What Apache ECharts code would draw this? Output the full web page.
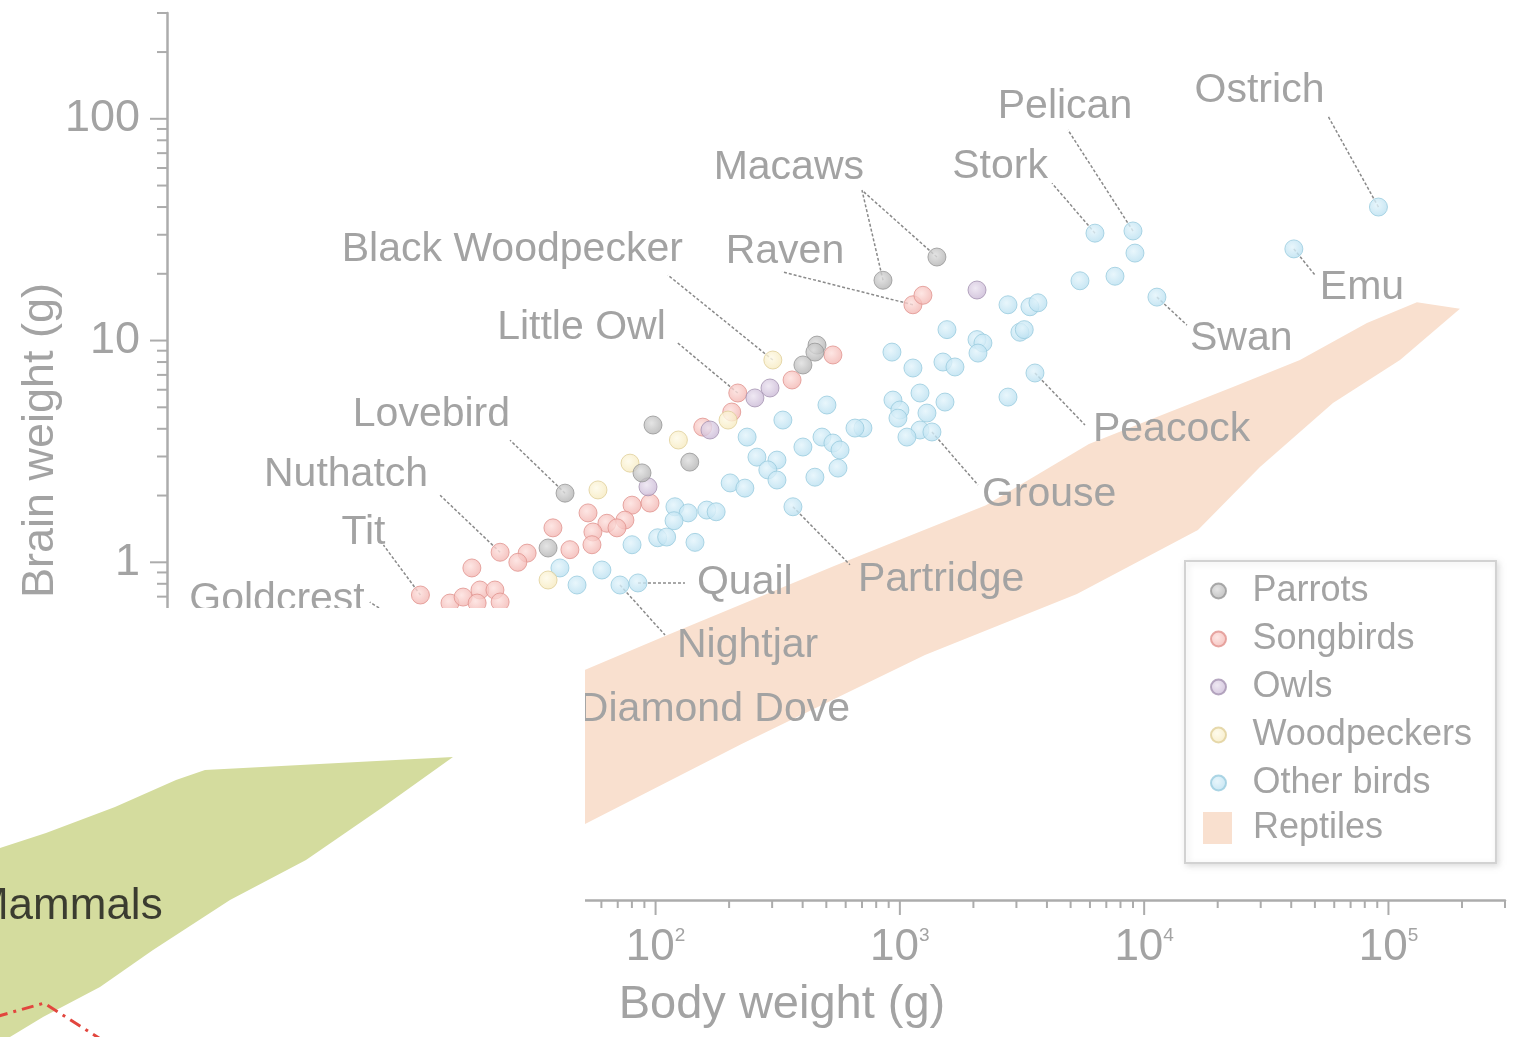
<!DOCTYPE html>
<html>
<head>
<meta charset="utf-8">
<title>Brain weight vs body weight</title>
<script src="https://cdn.jsdelivr.net/npm/echarts@6/dist/echarts.min.js"></script>
<style>
  html, body { margin: 0; padding: 0; background: #fff; }
  #chart { width: 1514px; height: 1037px; }
</style>
</head>
<body>
<div id="chart"></div>
<script>
// ---- data: [body weight (g), brain weight (g)] ----
const parrots = [[1418, 23.8], [853, 18.7], [458, 9.54], [449, 8.87], [401, 7.76], [97.6, 4.16],
  [138, 2.83], [88.0, 2.53], [42.6, 2.05], [36.3, 1.16]];

const songbirds = [[1131, 14.5], [1243, 16.0], [532, 8.61], [362, 6.64], [217, 5.80], [205, 4.76],
  [156, 4.07], [94.9, 1.85], [80.1, 1.81], [52.9, 1.67], [63.2, 1.50], [74.9, 1.55], [69.5, 1.43],
  [38.0, 1.43], [55.4, 1.37], [54.9, 1.20], [44.6, 1.14], [29.8, 1.10], [23.1, 1.11], [27.3, 1.00],
  [17.7, 0.943], [10.9, 0.712], [14.4, 0.655], [16.3, 0.697], [19.1, 0.750], [22.0, 0.750],
  [23.1, 0.662], [18.6, 0.655], [11.9, 0.446]];

const owls = [[2069, 16.9], [294, 6.11], [255, 5.51], [167, 3.95], [93.1, 2.19]];

const woodpeckers = [[302, 8.17], [198, 4.38], [124, 3.56], [78.6, 2.80], [58.1, 2.12], [36.3, 0.832]];

const otherBirds = [[91000, 40.0], [41000, 25.9], [9000, 31.2], [9170, 24.8], [6290, 30.5], [5461, 18.6],
  [7597, 19.5], [11280, 15.7], [2771, 14.5], [3408, 14.2], [3675, 14.8], [1559, 11.2], [3100, 10.9],
  [3230, 11.2], [2069, 10.1], [2188, 9.75], [2088, 8.78], [928, 8.87], [1131, 7.52], [1501, 8.00],
  [1681, 7.60], [3573, 7.14], [2771, 5.56], [937, 5.39], [1000, 4.86], [982, 4.47], [1209, 5.80],
  [1291, 4.71], [1530, 5.28], [1209, 3.95], [1353, 3.87], [1069, 3.67], [706, 4.03], [655, 4.03],
  [503, 5.12], [332, 4.38], [237, 3.67], [401, 3.31], [480, 3.67], [532, 3.45], [569, 3.21],
  [260, 2.98], [314, 2.89], [288, 2.61], [314, 2.35], [558, 2.66], [449, 2.42], [202, 2.28],
  [232, 2.16], [365, 1.78], [120, 1.78], [136, 1.67], [162, 1.72], [177, 1.69], [119, 1.54],
  [102, 1.29], [111, 1.30], [145, 1.23], [80.1, 1.20], [40.6, 0.943], [47.7, 0.790], [60.3, 0.923],
  [71.5, 0.790], [84.7, 0.807], [33.6, 0.446]];

// reptile range outline (body, brain)
const reptileBand = [[14.4, 0.181], [52.4, 0.330], [107, 0.460], [538, 0.962], [2251, 1.81],
  [5944, 3.42], [12400, 4.71], [23090, 6.17], [43420, 8.17], [81660, 12.0], [130800, 14.9],
  [196200, 13.9], [111500, 8.17], [59280, 5.23], [29790, 2.69], [16600, 1.40], [5307, 0.719],
  [1267, 0.382], [226, 0.152], [52.4, 0.0667], [14.4, 0.0323]];

// mammal inset (own axes, lower left)
const mammalBand = [[1000, 57.8], [2473, 79.8], [9614, 139.5], [31940, 249], [56510, 309],
  [7.44e6, 408], [1.877e6, 139.5], [412500, 44.7], [92430, 18.9], [20310, 6.47], [7155, 2.93],
  [2331, 1.54], [1217, 1.0], [1000, 1.0]];
const mammalLine = [[554, 1.32], [2377, 2.07], [8713, 0.842]];
const mammalLabelAt = [576, 16.3];

const legendNames = ['Parrots', 'Songbirds', 'Owls', 'Woodpeckers', 'Other birds'];

// axis ticks
const X_MIN = 1, X_MAX = 3e5, Y_MIN = 0.03, Y_MAX = 300;
const xMajorTicks = [1, 10, 100, 1000, 10000, 100000];
const yMajorTicks = [0.1, 1, 10, 100];
const xMinorTicks = [];
const yMinorTicks = [];
for (let e = 0; e <= 5; e++) {
  for (let k = 2; k <= 9; k++) { const v = k * Math.pow(10, e); if (v <= X_MAX * 1.0001) xMinorTicks.push(v); }
}
for (let e = -2; e <= 2; e++) {
  for (let k = 2; k <= 9; k++) { const v = k * Math.pow(10, e); if (v >= Y_MIN * 0.999 && v <= Y_MAX * 1.0001) yMinorTicks.push(v); }
}

// named birds: leader vector (px) from the point, text offset (px) from leader end
const labels = [
  { name: 'Ostrich', at: [91000, 40.0], lead: [-51, -92], off: [-3, -24], align: 'right' },
  { name: 'Emu', at: [41000, 25.9], lead: [21, 26], off: [5, 13], align: 'left' },
  { name: 'Pelican', at: [9000, 31.2], lead: [-65, -101], off: [-3, -23], align: 'center' },
  { name: 'Stork', at: [6290, 30.5], lead: [-43, -50], off: [-4, -16], align: 'right' },
  { name: 'Swan', at: [11280, 15.7], lead: [30, 28], off: [3, 14], align: 'left' },
  { name: 'Macaws', at: [853, 18.7], also: [1418, 23.8], lead: [-21, -90], off: [2, -23], align: 'right' },
  { name: 'Raven', at: [1131, 14.5], lead: [-131, -33], off: [3, -20], align: 'center' },
  { name: 'Black Woodpecker', at: [302, 8.17], lead: [-105, -85], off: [15, -25], align: 'right' },
  { name: 'Little Owl', at: [217, 5.80], lead: [-60, -50], off: [-12, -15], align: 'right' },
  { name: 'Lovebird', at: [42.6, 2.05], lead: [-55, -53], off: [0, -25], align: 'right' },
  { name: 'Nuthatch', at: [23.1, 1.11], lead: [-60, -57], off: [-12, -21], align: 'right' },
  { name: 'Tit', at: [10.9, 0.712], lead: [-37, -50], off: [2, -12], align: 'right' },
  { name: 'Goldcrest', at: [11.9, 0.446], lead: [-60, -38], off: [-5, -2], align: 'right' },
  { name: 'Peacock', at: [3573, 7.14], lead: [50, 52], off: [8, 5], align: 'left' },
  { name: 'Grouse', at: [1353, 3.87], lead: [46, 53], off: [4, 10], align: 'left' },
  { name: 'Partridge', at: [365, 1.78], lead: [57, 58], off: [8, 15], align: 'left' },
  { name: 'Quail', at: [84.7, 0.807], lead: [47, 0], off: [12, 0], align: 'left' },
  { name: 'Nightjar', at: [71.5, 0.790], lead: [45, 50], off: [12, 11], align: 'left' },
  { name: 'Diamond Dove', at: [33.6, 0.446], lead: [35, 65], off: [4, 5], align: 'left' }
];

// ---- styles ----
const FONT = '"Liberation Sans", Arial, sans-serif';
const TEXT_GRAY = '#a3a3a3';
const AXIS_GRAY = '#acacac';
const REPTILE = '#f9e0cf';
const MAMMAL = '#d4dc9e';

const chart = echarts.init(document.getElementById('chart'), null, { renderer: 'canvas' });

function ball(light, base) {
  return new echarts.graphic.RadialGradient(0.42, 0.4, 0.62, [
    { offset: 0, color: light },
    { offset: 1, color: base }
  ]);
}

function birdSeries(name, data, light, base, edge) {
  return {
    name: name,
    type: 'scatter',
    data: data,
    symbol: 'circle',
    symbolSize: 18,
    z: 3,
    silent: true,
    itemStyle: { color: ball(light, base), borderColor: edge, borderWidth: 1 }
  };
}

function isPow10(v) {
  const e = Math.log10(v);
  return Math.abs(e - Math.round(e)) < 1e-6;
}

// tick marks drawn through the axis scales
const tickData = []
  .concat(xMajorTicks.map(v => [v, Y_MIN, 0, 1]))
  .concat(xMinorTicks.map(v => [v, Y_MIN, 0, 0]))
  .concat(yMajorTicks.map(v => [X_MIN, v, 1, 1]))
  .concat(yMinorTicks.map(v => [X_MIN, v, 1, 0]));

const option = {
  animation: false,
  backgroundColor: '#fff',
  grid: [
    { left: 167, right: 9, top: 13, bottom: 137 },
    { left: 0, top: 608, width: 585, height: 429 }   // mammal inset
  ],
  xAxis: [{
    type: 'log',
    gridIndex: 0,
    min: X_MIN,
    max: X_MAX,
    name: 'Body weight (g)',
    nameLocation: 'middle',
    nameGap: 82,
    nameTextStyle: { fontSize: 47, color: TEXT_GRAY, fontFamily: FONT, padding: [0, 108, 0, 0] },
    axisLine: { lineStyle: { color: AXIS_GRAY, width: 2.5 } },
    axisTick: { show: false },
    splitLine: { show: false },
    axisLabel: {
      margin: 26,
      showMinLabel: false,
      showMaxLabel: false,
      formatter: function (v) {
        if (!isPow10(v)) return '';
        return '{b|10}{s|' + Math.round(Math.log10(v)) + '}';
      },
      rich: {
        b: { fontSize: 44, color: TEXT_GRAY, fontFamily: FONT },
        s: { fontSize: 19, color: TEXT_GRAY, fontFamily: FONT, verticalAlign: 'top' }
      }
    }
  }, {
    type: 'log', gridIndex: 1, min: 1e3, max: 1e8, show: false
  }],
  yAxis: [{
    type: 'log',
    gridIndex: 0,
    min: Y_MIN,
    max: Y_MAX,
    name: 'Brain weight (g)',
    nameLocation: 'middle',
    nameGap: 104,
    nameMoveOverlap: false,
    nameTextStyle: { fontSize: 45, color: TEXT_GRAY, fontFamily: FONT, padding: [0, 0, 0, 32] },
    axisLine: { lineStyle: { color: AXIS_GRAY, width: 2.5 } },
    axisTick: { show: false },
    splitLine: { show: false },
    axisLabel: {
      margin: 27,
      fontSize: 45,
      color: TEXT_GRAY,
      fontFamily: FONT,
      showMinLabel: false,
      showMaxLabel: false,
      formatter: function (v) {
        if (!isPow10(v)) return '';
        return v >= 1 ? String(Math.round(v)) : String(+v.toPrecision(1));
      }
    }
  }, {
    type: 'log', gridIndex: 1, min: 1, max: 1e4, show: false
  }],
  legend: [{
    data: legendNames.map(n => ({ name: n, icon: 'circle' })),
    orient: 'vertical',
    left: 1185,
    top: 561,
    padding: [12, 24, 62, 25],
    itemWidth: 30,
    itemHeight: 15,
    itemGap: 12,
    selectedMode: false,
    backgroundColor: '#fff',
    borderColor: '#d2d2d2',
    borderWidth: 2,
    shadowColor: 'rgba(0,0,0,0.12)',
    shadowBlur: 6,
    shadowOffsetX: 2,
    shadowOffsetY: 2,
    textStyle: { fontSize: 36, lineHeight: 36, color: TEXT_GRAY, fontFamily: FONT, padding: [0, 0, 0, 14] }
  }, {
    data: [{ name: 'Reptiles', icon: 'rect' }],
    left: 1203,
    top: 810,
    padding: 0,
    itemWidth: 29,
    itemHeight: 32,
    selectedMode: false,
    z: 5,
    textStyle: { fontSize: 36, lineHeight: 36, color: TEXT_GRAY, fontFamily: FONT, padding: [0, 0, 0, 16] }
  }],
  // white panel: the lower left belongs to the mammal inset
  graphic: [{
    type: 'rect',
    left: 0,
    top: 608,
    shape: { width: 585, height: 429 },
    style: { fill: '#fff' },
    z: 50,
    silent: true
  }],
  series: [
    {
      name: 'Reptiles',
      type: 'custom',
      z: 1,
      silent: true,
      itemStyle: { color: REPTILE },
      data: reptileBand,
      renderItem: function (params, api) {
        if (params.dataIndex !== 0) return null;
        return {
          type: 'polygon',
          shape: { points: reptileBand.map(p => api.coord(p)) },
          style: { fill: REPTILE }
        };
      }
    },
    {
      name: 'ticks',
      type: 'custom',
      z: 2,
      silent: true,
      data: tickData,
      renderItem: function (params, api) {
        const p = api.coord([api.value(0), api.value(1)]);
        const isY = api.value(2) === 1;
        const major = api.value(3) === 1;
        const len = isY ? (major ? 17 : 10) : (major ? 15 : 8);
        const shape = isY
          ? { x1: p[0] - len, y1: p[1], x2: p[0], y2: p[1] }
          : { x1: p[0], y1: p[1], x2: p[0], y2: p[1] + len };
        return { type: 'line', shape: shape, style: { stroke: AXIS_GRAY, lineWidth: 2 } };
      }
    },
    {
      name: 'labels',
      type: 'custom',
      z: 2,
      silent: true,
      data: labels.map(l => l.at),
      renderItem: function (params, api) {
        const l = labels[params.dataIndex];
        const p = api.coord(l.at);
        const end = [p[0] + l.lead[0], p[1] + l.lead[1]];
        const dash = { stroke: '#8a8a8a', lineWidth: 1.5, lineDash: [3, 2] };
        const children = [{ type: 'line', shape: { x1: p[0], y1: p[1], x2: end[0], y2: end[1] }, style: dash }];
        if (l.also) {
          const q = api.coord(l.also);
          children.push({ type: 'line', shape: { x1: q[0], y1: q[1], x2: end[0], y2: end[1] }, style: dash });
        }
        children.push({
          type: 'text',
          x: end[0] + l.off[0],
          y: end[1] + l.off[1],
          style: { text: l.name, fill: TEXT_GRAY, font: '41px ' + FONT, align: l.align, verticalAlign: 'middle' }
        });
        return { type: 'group', children: children };
      }
    },
    birdSeries('Other birds', otherBirds, '#e3f4fb', '#b8dff0', '#9accdf'),
    birdSeries('Songbirds', songbirds, '#fde0dd', '#f2b4b0', '#e1938f'),
    birdSeries('Woodpeckers', woodpeckers, '#fefae8', '#f6e9bd', '#e0cf9a'),
    birdSeries('Owls', owls, '#ebe3f0', '#c8b6d4', '#a594b2'),
    birdSeries('Parrots', parrots, '#dedede', '#b1b1b1', '#979797'),
    // mammal inset
    {
      name: 'Mammals',
      type: 'custom',
      xAxisIndex: 1,
      yAxisIndex: 1,
      z: 60,
      silent: true,
      data: mammalBand,
      renderItem: function (params, api) {
        if (params.dataIndex !== 0) return null;
        return {
          type: 'polygon',
          shape: { points: mammalBand.map(p => api.coord(p)) },
          style: { fill: MAMMAL }
        };
      }
    },
    {
      name: 'mammal-line',
      type: 'line',
      xAxisIndex: 1,
      yAxisIndex: 1,
      z: 61,
      silent: true,
      clip: false,
      symbol: 'none',
      data: mammalLine,
      lineStyle: { color: '#e2463e', width: 3, type: [12, 6, 3, 6] }
    },
    {
      name: 'mammal-label',
      type: 'scatter',
      xAxisIndex: 1,
      yAxisIndex: 1,
      z: 62,
      silent: true,
      clip: false,
      symbolSize: 0,
      data: [mammalLabelAt],
      label: {
        show: true,
        position: 'right',
        distance: 0,
        formatter: 'Mammals',
        fontSize: 44,
        color: '#141414',
        fontFamily: FONT
      }
    }
  ]
};

chart.setOption(option);
</script>
</body>
</html>
